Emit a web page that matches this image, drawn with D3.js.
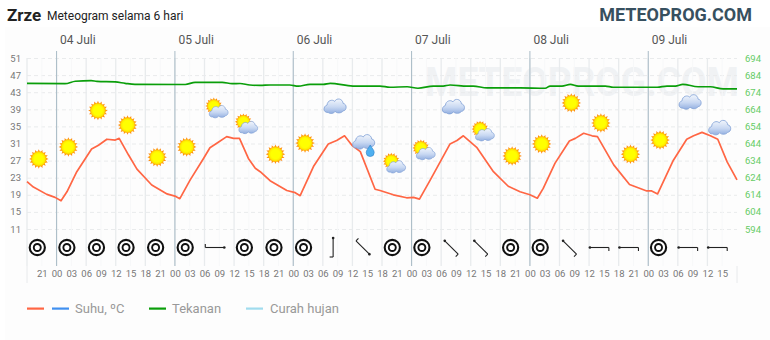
<!DOCTYPE html>
<html>
<head>
<meta charset="utf-8">
<script src="https://cdn.jsdelivr.net/npm/d3@7/dist/d3.min.js"></script>
<style>
html, body { margin: 0; padding: 0; background: #fff; }
svg { display: block; font-family: Roboto, sans-serif; }
.axis path, .axis line { display: none; }
</style>
</head>
<body>
<svg width="770" height="340"></svg>
<script>
// hours counted from 00:00 on 04 Juli
var tempHours = [-6, -4.7, -2, -0.3, 0.9, 2.1, 4.1, 7.1, 8.5, 10.2, 11.9, 12.7, 14.6, 16.3, 19.3, 22.4, 24, 25, 27.1, 29.8, 31.1, 32.8, 34.5, 35.9, 37.1, 38.9, 40.3, 41.3, 43.3, 46.7, 48.4, 49.4, 52.1, 55.1, 56.8, 58.4, 59.9, 61.6, 64.6, 65.6, 68.3, 71, 72.4, 73.6, 75.8, 79.8, 81.2, 82.5, 85.2, 88.6, 91.6, 94, 96, 97.5, 98.7, 101.1, 104, 105.2, 106.9, 108.6, 109.7, 113, 116.2, 119.7, 120.7, 121.9, 125.1, 127.8, 129.2, 130.9, 132.6, 134.1, 136, 138];
var tempValues = [22.1, 20.8, 19.1, 18.4, 17.6, 19.7, 24.4, 29.7, 30.6, 32, 31.8, 32.2, 28.3, 25, 21.3, 19.2, 18.7, 18.1, 22.5, 27.5, 30, 31.3, 32.6, 32.2, 32.2, 27.5, 25.2, 24.4, 22.3, 20, 19.5, 18.8, 25.6, 30.9, 31.7, 32.8, 30.6, 29.1, 20.3, 20, 19, 18.3, 18.4, 18, 22.5, 30.9, 31.7, 32.8, 30.1, 24.4, 21, 19.7, 19, 18.2, 20.5, 26.4, 31.6, 32.2, 33.4, 32.8, 32.6, 26, 21.4, 19.9, 19.9, 19.2, 27.1, 32, 32.8, 33.6, 32.8, 32, 26.7, 22.5];

var pressHours = [-6, 1.7, 3.8, 7, 8.2, 11.9, 13.9, 15.9, 26.1, 28.1, 33.6, 35.6, 37.2, 39.2, 41.3, 43.3, 47.3, 49, 51.4, 54.1, 55.5, 60.1, 65.6, 67.6, 71.1, 73.3, 76.4, 78.4, 79.8, 83.3, 84.5, 87.3, 94, 99.1, 100.1, 102.5, 104.2, 105.8, 111.3, 112.9, 121.8, 123.8, 125.5, 127, 130.1, 132.6, 135.2, 138];
var pressValues = [679.2, 679, 680.4, 680.8, 680.3, 680, 679.2, 678.6, 678.5, 679.8, 679.8, 679, 679.1, 678.2, 678, 678.2, 678.2, 677.5, 678.6, 678.6, 679.2, 677.6, 677.6, 676.9, 677.2, 676.3, 677.6, 677.6, 678.2, 677.6, 677.6, 676.5, 676.5, 676.3, 677.6, 677.6, 678.6, 677.6, 677.6, 676.9, 676.9, 677.6, 677.6, 678.6, 677.2, 677.2, 675.9, 675.9];

var iconHours = [-3, 3, 9, 15, 21, 27, 33, 39, 45, 51, 57, 63, 69, 75, 81, 87, 93, 99, 105, 111, 117, 123, 129, 135];
var iconLevels = [27.4, 30.2, 38.7, 35.3, 27.8, 30.2, 39.3, 35.6, 28.5, 31.1, 39.9, 31.1, 26.4, 29.5, 39.8, 33.9, 28.1, 30.9, 40.5, 35.8, 28.5, 31.8, 40.9, 34.9];
var iconTypes = ["sun", "sun", "sun", "sun", "sun", "sun", "partly", "partly", "sun", "sun", "cloud", "rain", "partly", "partly", "cloud", "partly", "sun", "sun", "sun", "sun", "sun", "sun", "cloud", "cloud"];
var windDirs = ["calm", "calm", "calm", "calm", "calm", "calm", "E", "calm", "calm", "calm", "N", "SE", "calm", "calm", "NW", "NW", "calm", "calm", "NW", "W", "W", "calm", "W", "W"];

var leftTicks = [51, 47, 43, 39, 35, 31, 27, 23, 19, 15, 11];
var rightTicks = [694, 684, 674, 664, 654, 644, 634, 624, 614, 604, 594];
var dayHours = [0, 24, 48, 72, 96, 120];
var dayLabels = ["04 Juli", "05 Juli", "06 Juli", "07 Juli", "08 Juli", "09 Juli"];
var hourTicks = d3.range(-3, 138, 3);
var legendNames = ["Suhu, ºC", "Tekanan", "Curah hujan"];

var svg = d3.select("svg"),
    margin = {top: 51, right: 33, bottom: 57, left: 27},
    plotRight = 770 - margin.right,
    plotBottom = 340 - margin.bottom;

var x = d3.scaleLinear().domain([-6, 138]).range([margin.left, plotRight]);
var y = d3.scaleLinear().domain([11, 51]).range([229, 58]);
var yPress = d3.scaleLinear().domain([594, 694]).range([229, 58]);

var defs = svg.append("defs");
var sunGrad = defs.append("radialGradient").attr("id", "sunGrad");
sunGrad.append("stop").attr("offset", "60%").attr("stop-color", "#ffff00");
sunGrad.append("stop").attr("offset", "85%").attr("stop-color", "#ffe800");
sunGrad.append("stop").attr("offset", "100%").attr("stop-color", "#ffb400");
var cloudGrad = defs.append("linearGradient").attr("id", "cloudGrad")
    .attr("x1", 0).attr("y1", 0).attr("x2", 0).attr("y2", 1);
cloudGrad.append("stop").attr("offset", "0%").attr("stop-color", "#f2f6fc");
cloudGrad.append("stop").attr("offset", "55%").attr("stop-color", "#c8d8f2");
cloudGrad.append("stop").attr("offset", "100%").attr("stop-color", "#93afe0");

// panel and header
svg.append("rect").attr("x", 5).attr("y", 27).attr("width", 765).attr("height", 313).attr("fill", "#fdfdfd");
svg.append("text").attr("x", 7).attr("y", 21).attr("font-size", 17).attr("font-weight", 700).attr("fill", "#222").text("Zrze");
svg.append("text").attr("x", 47).attr("y", 20).attr("font-size", 12).attr("fill", "#222").text("Meteogram selama 6 hari");
svg.append("text").attr("x", 752).attr("y", 21).attr("text-anchor", "end").attr("font-size", 18).attr("font-weight", 700)
    .attr("fill", "#37505f").text("METEOPROG.COM");

// watermark
svg.append("text").attr("transform", "translate(425,96) scale(1,1.12)").attr("font-size", 37).attr("font-weight", 700)
    .attr("fill", "#f0f2f4").text("METEOPROG.COM");

// grid
svg.append("g").selectAll("line").data(leftTicks).enter().append("line")
    .attr("x1", margin.left).attr("x2", plotRight)
    .attr("y1", function(d) { return y(d) + 0.5; }).attr("y2", function(d) { return y(d) + 0.5; })
    .attr("stroke", "#e9ebec").attr("stroke-dasharray", "4,3");

svg.append("g").selectAll("line").data(d3.range(-3, 138, 6)).enter().append("line")
    .attr("x1", function(d) { return x(d); }).attr("x2", function(d) { return x(d); })
    .attr("y1", margin.top + 7).attr("y2", 266)
    .attr("stroke", "#f7f8f9");

svg.append("g").selectAll("line").data(d3.range(-6, 138, 6)).enter().append("line")
    .attr("x1", function(d) { return x(d); }).attr("x2", function(d) { return x(d); })
    .attr("y1", margin.top + 7).attr("y2", 266)
    .attr("stroke", "#e8ebed").attr("stroke-width", 1.3);

svg.append("g").selectAll("line").data(dayHours).enter().append("line")
    .attr("x1", function(d) { return x(d); }).attr("x2", function(d) { return x(d); })
    .attr("y1", margin.top).attr("y2", 266)
    .attr("stroke", "#a9bbc6").attr("stroke-width", 1);

svg.append("g").selectAll("line").data([-6, 138]).enter().append("line")
    .attr("x1", function(d) { return x(d); }).attr("x2", function(d) { return x(d); })
    .attr("y1", 266).attr("y2", plotBottom)
    .attr("stroke", "#e8eaec");

// axes
var leftAxis = svg.append("g").attr("class", "axis").attr("transform", "translate(21,0)")
    .call(d3.axisLeft(y).tickValues(leftTicks).tickSize(0).tickPadding(0));
leftAxis.selectAll("text").attr("font-family", "Roboto, sans-serif").attr("font-size", 9.5).attr("fill", "#777");

var rightAxis = svg.append("g").attr("class", "axis").attr("transform", "translate(745,0)")
    .call(d3.axisRight(yPress).tickValues(rightTicks).tickSize(0).tickPadding(0));
rightAxis.selectAll("text").attr("font-family", "Roboto, sans-serif").attr("font-size", 9.5).attr("fill", "#66cc66");

var hourAxis = svg.append("g").attr("class", "axis").attr("transform", "translate(0,270)")
    .call(d3.axisBottom(x).tickValues(hourTicks).tickSize(0).tickPadding(0)
        .tickFormat(function(h) { return d3.format("02")((h + 24) % 24); }));
hourAxis.selectAll("text").attr("font-family", "Roboto, sans-serif").attr("font-size", 9.5).attr("fill", "#777");

svg.append("g").selectAll("text").data(dayHours).enter().append("text")
    .attr("x", function(d) { return x(d) + 3.5; }).attr("y", 44)
    .attr("font-size", 12).attr("fill", "#555")
    .text(function(d, i) { return dayLabels[i]; });

// lines
var tempLine = d3.line()
    .x(function(d, i) { return x(tempHours[i]); })
    .y(function(d) { return y(d); });
var pressLine = d3.line()
    .x(function(d, i) { return x(pressHours[i]); })
    .y(function(d) { return yPress(d); })
    .curve(d3.curveMonotoneX);

svg.append("path").datum(pressValues).attr("d", pressLine).attr("fill", "none")
    .attr("stroke", "#0a9e0a").attr("stroke-width", 1.7).attr("stroke-linejoin", "round");
svg.append("path").datum(tempValues).attr("d", tempLine).attr("fill", "none")
    .attr("stroke", "#ff6644").attr("stroke-width", 1.7).attr("stroke-linejoin", "round");

// weather icons
function drawSun(g, r) {
    g.selectAll("path.ray").data(d3.range(0, 360, 22.5)).enter().append("path")
        .attr("class", "ray")
        .attr("d", "M-1.1," + (-r * 0.95) + "L0," + (-r * 1.3) + "L1.1," + (-r * 0.95) + "Z")
        .attr("fill", "#ff8a10")
        .attr("transform", function(d) { return "rotate(" + d + ")"; });
    g.append("circle").attr("r", r).attr("fill", "url(#sunGrad)").attr("stroke", "#ffb000").attr("stroke-width", 0.5);
}

function drawCloud(g, dx, dy, k) {
    var c = g.append("g").attr("transform", "translate(" + dx + "," + dy + ") scale(" + k + ")");
    c.append("path")
        .attr("d", "M-6.5,7 C-11.5,7.5 -12,1 -7.5,-0.5 C-7.5,-5 -2,-6.5 0,-4 C2,-8 8,-7 8.5,-2 C12.5,-1.5 12.5,5 8.5,5.5 C6.5,8 2.5,8 0.5,6 C-1.5,8.5 -4.5,8.5 -6.5,7 Z")
        .attr("fill", "url(#cloudGrad)").attr("stroke", "#7f9fd6").attr("stroke-width", 0.8);
}

var icons = svg.append("g").selectAll("g").data(iconTypes).enter().append("g")
    .attr("transform", function(d, i) { return "translate(" + (x(iconHours[i]) - 3) + "," + y(iconLevels[i]) + ")"; });

icons.each(function(d) {
    var g = d3.select(this);
    if (d === "sun") {
        drawSun(g, 7.5);
    } else if (d === "partly") {
        drawSun(g.append("g").attr("transform", "translate(-2.5,-2)"), 6.5);
        drawCloud(g, 2, 3, 0.85);
    } else if (d === "cloud") {
        drawCloud(g, 0, 0, 1);
    } else if (d === "rain") {
        drawCloud(g, -1, -2, 1);
        g.append("path").attr("d", "M6,2 C8,5.5 10,7 10,9.5 A4,4 0 0 1 2,9.5 C2,7 4,5.5 6,2 Z")
            .attr("fill", "#4fb0f0").attr("stroke", "#2c80c8").attr("stroke-width", 0.6);
    }
});

// wind row
var windAngle = {N: 0, E: 90, SE: 135, W: 270, NW: 315};
var wind = svg.append("g").selectAll("g").data(windDirs).enter().append("g")
    .attr("transform", function(d, i) { return "translate(" + (x(iconHours[i]) - 4.5) + ",247.5)"; });

wind.each(function(d) {
    var g = d3.select(this);
    if (d === "calm") {
        g.append("circle").attr("r", 7.6).attr("fill", "#fff").attr("stroke", "#111").attr("stroke-width", 2.1);
        g.append("circle").attr("r", 3.5).attr("fill", "#fff").attr("stroke", "#111").attr("stroke-width", 1.9);
    } else {
        var a = g.append("g").attr("transform", "rotate(" + windAngle[d] + ")");
        a.append("line").attr("x1", 0).attr("x2", 0).attr("y1", -9.5).attr("y2", 9.5).attr("stroke", "#222").attr("stroke-width", 1.1);
        a.append("line").attr("x1", 0).attr("x2", -3.5).attr("y1", 9.5).attr("y2", 9.5).attr("stroke", "#222").attr("stroke-width", 1.1);
        a.append("circle").attr("cy", -9.5).attr("r", 1.3).attr("fill", "#222");
    }
});

// legend
var legendSwatches = [
    {color: "#ff6644", x: 27},
    {color: "#4090f0", x: 52},
    {color: "#0a9e0a", x: 149},
    {color: "#a0dcee", x: 246}
];
svg.append("g").selectAll("rect").data(legendSwatches).enter().append("rect")
    .attr("x", function(d) { return d.x; }).attr("y", 307.5).attr("width", 17).attr("height", 2.2)
    .attr("fill", function(d) { return d.color; });
svg.append("g").selectAll("text").data(legendNames).enter().append("text")
    .attr("x", function(d, i) { return [75, 172, 270][i]; }).attr("y", 313)
    .attr("font-size", 13).attr("fill", "#999")
    .text(function(d) { return d; });
</script>
</body>
</html>
